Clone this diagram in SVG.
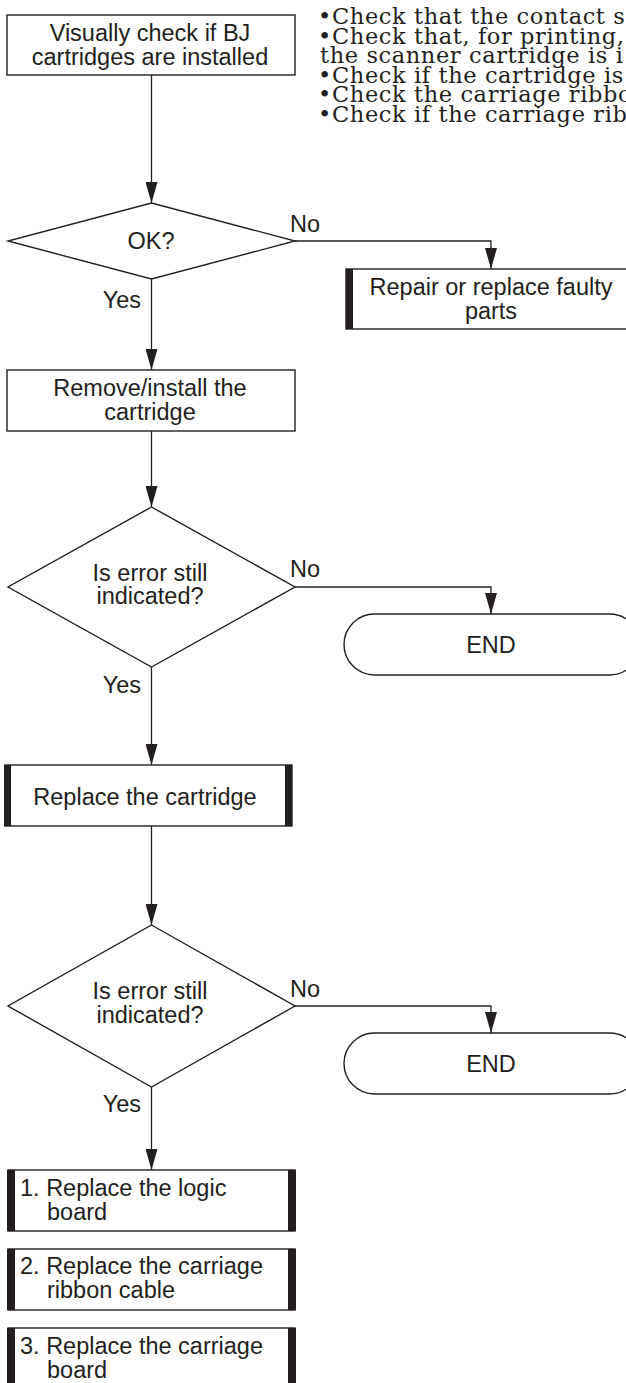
<svg xmlns="http://www.w3.org/2000/svg" width="626" height="1383" viewBox="0 0 626 1383">
<style>
.box{fill:#fff;stroke:#231f20;stroke-width:1.4}
.bar{fill:#231f20}
.t{font-family:"Liberation Sans",Arial,sans-serif;font-size:23.5px;fill:#231f20}
.c{text-anchor:middle}
.e{text-anchor:end}
.note{font-family:"DejaVu Serif","Liberation Serif",serif;font-size:22.5px;letter-spacing:0.6px;fill:#231f20}
.ln{fill:none;stroke:#231f20;stroke-width:1.3;marker-end:url(#ah)}
</style>
<defs>
<marker id="ah" markerUnits="userSpaceOnUse" markerWidth="22" markerHeight="12" refX="21" refY="6" orient="auto">
<path d="M0,0 L21,6 L0,12 z" fill="#231f20"/>
</marker>
</defs>
<rect width="626" height="1383" fill="#fff"/>

<g id="notes">
<text class="note" y="24"><tspan x="318">•</tspan><tspan x="332">Check that the contact s</tspan></text>
<text class="note" y="43.5"><tspan x="318">•</tspan><tspan x="332">Check that, for printing,</tspan></text>
<text class="note" x="320" y="63">the scanner cartridge is i</text>
<text class="note" y="82.5"><tspan x="318">•</tspan><tspan x="332">Check if the cartridge is</tspan></text>
<text class="note" y="102"><tspan x="318">•</tspan><tspan x="332">Check the carriage ribbo</tspan></text>
<text class="note" y="121.5"><tspan x="318">•</tspan><tspan x="332">Check if the carriage rib</tspan></text>
</g>

<g id="connectors">
<path class="ln" d="M151.5,75 V203"/>
<path class="ln" d="M295,241 H491 V269"/>
<path class="ln" d="M151.5,279 V370"/>
<path class="ln" d="M151.5,431 V507"/>
<path class="ln" d="M295,587 H491 V614"/>
<path class="ln" d="M151.5,667 V765"/>
<path class="ln" d="M151.5,826 V925"/>
<path class="ln" d="M295,1006 H491 V1033"/>
<path class="ln" d="M151.5,1087 V1170"/>
<text class="t" x="290" y="232">No</text>
<text class="t e" x="141" y="308">Yes</text>
<text class="t" x="290" y="577">No</text>
<text class="t e" x="141" y="693">Yes</text>
<text class="t" x="290" y="997">No</text>
<text class="t e" x="141" y="1112">Yes</text>
</g>

<g id="visual-check">
<rect class="box" x="7" y="15" width="288" height="60"/>
<text class="t c" x="150" y="41">Visually check if BJ</text>
<text class="t c" x="150" y="65">cartridges are installed</text>
</g>

<g id="ok-decision">
<polygon class="box" points="151.5,203 295,241 151.5,279 8,241"/>
<text class="t c" x="151" y="249">OK?</text>
</g>

<g id="repair">
<rect class="box" x="346" y="269" width="292" height="60"/>
<rect class="bar" x="346" y="269" width="7" height="60"/>
<text class="t c" x="491" y="295">Repair or replace faulty</text>
<text class="t c" x="491" y="319">parts</text>
</g>

<g id="remove-install">
<rect class="box" x="7" y="370" width="288" height="61"/>
<text class="t c" x="150" y="396">Remove/install the</text>
<text class="t c" x="150" y="420">cartridge</text>
</g>

<g id="error-decision-1">
<polygon class="box" points="151.5,507 295,587 151.5,667 8,587"/>
<text class="t c" x="150" y="581">Is error still</text>
<text class="t c" x="150" y="604">indicated?</text>
</g>

<g id="end-1">
<rect class="box" x="344" y="614" width="296" height="61" rx="30.5" ry="30.5"/>
<text class="t c" x="491" y="653">END</text>
</g>

<g id="replace-cartridge">
<rect class="box" x="5" y="765" width="287" height="61"/>
<rect class="bar" x="4" y="765" width="7" height="61"/>
<rect class="bar" x="285" y="765" width="7" height="61"/>
<text class="t c" x="145" y="805">Replace the cartridge</text>
</g>

<g id="error-decision-2">
<polygon class="box" points="151.5,925 295,1006 151.5,1087 8,1006"/>
<text class="t c" x="150" y="999">Is error still</text>
<text class="t c" x="150" y="1023">indicated?</text>
</g>

<g id="end-2">
<rect class="box" x="344" y="1033" width="296" height="61" rx="30.5" ry="30.5"/>
<text class="t c" x="491" y="1072">END</text>
</g>

<g id="replace-logic-board">
<rect class="box" x="8" y="1170" width="287" height="61"/>
<rect class="bar" x="7" y="1170" width="8" height="61"/>
<rect class="bar" x="288" y="1170" width="8" height="61"/>
<text class="t" x="20" y="1196">1. Replace the logic</text>
<text class="t" x="47" y="1220">board</text>
</g>

<g id="replace-ribbon-cable">
<rect class="box" x="8" y="1249" width="287" height="61"/>
<rect class="bar" x="7" y="1249" width="8" height="61"/>
<rect class="bar" x="288" y="1249" width="8" height="61"/>
<text class="t" x="20" y="1274">2. Replace the carriage</text>
<text class="t" x="47" y="1298">ribbon cable</text>
</g>

<g id="replace-carriage-board">
<rect class="box" x="8" y="1328" width="287" height="70"/>
<rect class="bar" x="7" y="1328" width="8" height="70"/>
<rect class="bar" x="288" y="1328" width="8" height="70"/>
<text class="t" x="20" y="1354">3. Replace the carriage</text>
<text class="t" x="47" y="1378">board</text>
</g>
</svg>
